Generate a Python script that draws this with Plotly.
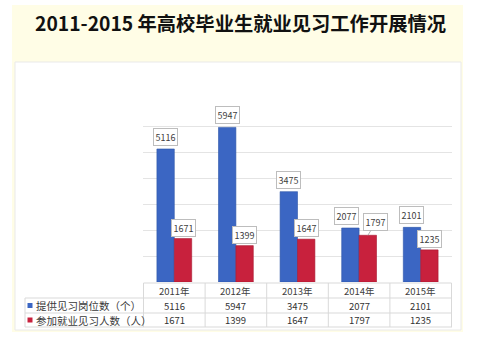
import plotly.graph_objects as go

# ---- data ----
years = ["2011年", "2012年", "2013年", "2014年", "2015年"]
series_names = ["提供见习岗位数（个）", "参加就业见习人数（人）"]
posts = [5116, 5947, 3475, 2077, 2101]
participants = [1671, 1399, 1647, 1797, 1235]
title_text = "2011-2015 年高校毕业生就业见习工作开展情况"

W, H = 480, 354
BLUE = "#3B66C3"
RED = "#C8213D"
FONT = "Noto Sans CJK SC"

def px(x):
    return x / W

def py(y):
    return 1 - y / H

fig = go.Figure()
fig.add_trace(go.Bar(x=years, y=posts, name=series_names[0],
                     marker=dict(color=BLUE, line=dict(color="#2D55A8", width=0.6))))
fig.add_trace(go.Bar(x=years, y=participants, name=series_names[1],
                     marker=dict(color=RED, line=dict(color="#A81830", width=0.6))))

shapes = []
# background panels
shapes.append(dict(type="rect", xref="paper", yref="paper", x0=px(12), x1=px(463), y0=py(332), y1=py(5),
                   fillcolor="#FFFDE6", line=dict(width=0), layer="below"))
shapes.append(dict(type="rect", xref="paper", yref="paper", x0=px(15), x1=px(461), y0=py(330), y1=py(62),
                   fillcolor="#FFFFFF", line=dict(color="#E9E9E9", width=1), layer="below"))

# data table
LINE = dict(color="#D9D9D9", width=1)
t_top, r1, r2, t_bot = 283, 298, 313, 327
x_left = 25
shapes.append(dict(type="line", xref="x", yref="paper", x0=-0.5, x1=len(years) - 0.5, y0=py(t_top), y1=py(t_top), line=LINE))
for yy in (r1, r2, t_bot):
    shapes.append(dict(type="line", xref="paper", yref="paper", x0=px(x_left), x1=px(452), y0=py(yy), y1=py(yy), line=LINE))
for i in range(len(years) + 1):
    shapes.append(dict(type="line", xref="x", yref="paper", x0=i - 0.5, x1=i - 0.5, y0=py(t_top), y1=py(t_bot), line=LINE))
shapes.append(dict(type="line", xref="paper", yref="paper", x0=px(x_left), x1=px(x_left), y0=py(r1), y1=py(t_bot), line=LINE))

annotations = []
# title
annotations.append(dict(text="<b>" + title_text + "</b>", xref="paper", yref="paper", x=0.5, y=py(23),
                        showarrow=False, font=dict(family=FONT, size=19.3, color="#111111"),
                        xanchor="center", yanchor="middle"))
# header row
for i, yr in enumerate(years):
    annotations.append(dict(text=yr, xref="x", yref="paper", x=yr, y=py((t_top + r1) / 2),
                            xanchor="center", yanchor="middle",
                            showarrow=False, font=dict(family=FONT, size=9.5, color="#404040")))
# rows
rows = [(series_names[0], posts, BLUE, (r1 + r2) / 2), (series_names[1], participants, RED, (r2 + t_bot) / 2)]
for name, vals, col, yc in rows:
    shapes.append(dict(type="rect", xref="paper", yref="paper", x0=px(27.5), x1=px(32.5),
                       y0=py(yc + 2.5), y1=py(yc - 2.5), fillcolor=col, line=dict(width=0)))
    annotations.append(dict(text=name, xref="paper", yref="paper", x=px(34), y=py(yc),
                            xanchor="left", yanchor="middle", showarrow=False,
                            font=dict(family=FONT, size=10.5, color="#3A3A3A")))
    for yr, v in zip(years, vals):
        annotations.append(dict(text=str(v), xref="x", yref="paper", x=yr, y=py(yc),
                                xanchor="center", yanchor="middle",
                                showarrow=False, font=dict(family=FONT, size=9.5, color="#333333")))

# data labels
OFF = 8.8
label_style = dict(bgcolor="#FFFFFF", bordercolor="#BDBDBD", borderwidth=1, borderpad=1.5,
                   font=dict(family=FONT, size=9, color="#404040"))
blue_adj = {3: -4}
for i, (yr, v) in enumerate(zip(years, posts)):
    annotations.append(dict(text=str(v), x=yr, y=v, xref="x", yref="y", showarrow=False,
                            xshift=-OFF + blue_adj.get(i, 0), yshift=12,
                            xanchor="center", yanchor="middle", **label_style))
for i, (yr, v) in enumerate(zip(years, participants)):
    if i == 3:
        annotations.append(dict(text=str(v), x=yr, y=v, xref="x", yref="y", showarrow=True,
                                arrowhead=0, arrowwidth=0.8, arrowcolor="#A0A0A0",
                                ax=8, ay=-13, xshift=OFF, **label_style))
    else:
        annotations.append(dict(text=str(v), x=yr, y=v, xref="x", yref="y", showarrow=False,
                                xshift=OFF, yshift=11, xanchor="center", yanchor="middle", **label_style))

fig.update_layout(
    width=W, height=H,
    margin=dict(l=0, r=0, t=0, b=0),
    paper_bgcolor="#FFFFFF", plot_bgcolor="rgba(0,0,0,0)",
    showlegend=False,
    barmode="group", bargap=0.435, bargroupgap=0,
    xaxis=dict(domain=[px(143), px(452)], showticklabels=False, showgrid=False, zeroline=False,
               showline=False, ticks=""),
    yaxis=dict(domain=[py(282), py(100)], range=[0, 7000], dtick=1000, showticklabels=False,
               showgrid=True, gridcolor="#E4E4E4", gridwidth=1, zeroline=False, showline=False, ticks=""),
    shapes=shapes,
    annotations=annotations,
    font=dict(family=FONT),
)

fig.write_html("out.html")
